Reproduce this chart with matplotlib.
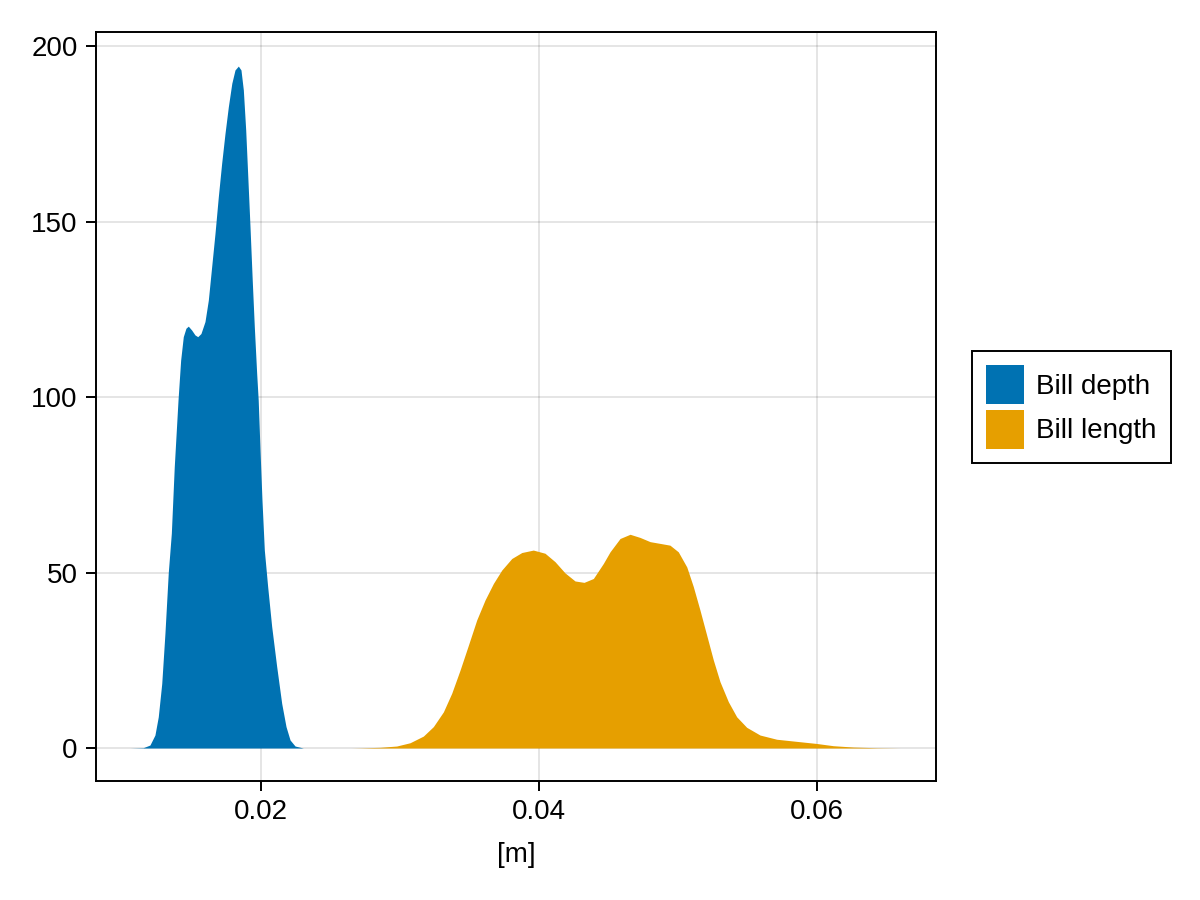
"""Density of penguin bill depth and bill length (in metres)."""

import matplotlib

matplotlib.use("Agg")
import matplotlib.pyplot as plt
from matplotlib.patches import Patch

# Density curves
depth_x = [0.01058, 0.01153, 0.01201, 0.01237, 0.01261, 0.01286, 0.01309, 0.01333,
           0.01355, 0.01376, 0.01403, 0.01422, 0.01441, 0.0146, 0.01477, 0.01501,
           0.01525, 0.01545, 0.01568, 0.01597, 0.01621, 0.01645, 0.01669, 0.01693,
           0.01717, 0.01741, 0.01765, 0.0179, 0.01813, 0.01837, 0.01856, 0.01873,
           0.0189, 0.01904, 0.01921, 0.01937, 0.01952, 0.01969, 0.0198, 0.01993,
           0.02007, 0.02024, 0.02048, 0.02077, 0.02113, 0.02149, 0.0218, 0.02209,
           0.02245, 0.02304]
depth_y = [0.0, 0.1, 0.85, 3.7, 8.9, 18.4, 32.7, 50.0,
           61.2, 80.1, 99.1, 110.5, 117.2, 119.6, 120.2, 119.1,
           117.7, 117.2, 118.1, 121.5, 127.6, 137.1, 146.6, 157.1,
           166.6, 175.1, 182.7, 189.4, 193.2, 194.3, 193.2, 187.5,
           176.1, 163.7, 148.5, 133.3, 120.0, 106.7, 99.1, 84.9,
           70.7, 56.4, 46.0, 34.6, 23.2, 12.7, 6.1, 2.3,
           0.57, 0.0]

length_x = [0.0265, 0.0272, 0.02856, 0.02976, 0.03072, 0.03168, 0.0324, 0.03312,
            0.03372, 0.03432, 0.03492, 0.03552, 0.03612, 0.03672, 0.03732, 0.03804,
            0.03876, 0.03959, 0.04043, 0.04115, 0.04187, 0.04259, 0.04324, 0.04391,
            0.04463, 0.04511, 0.04583, 0.04655, 0.04727, 0.04799, 0.04871, 0.04942,
            0.05002, 0.05063, 0.0511, 0.05158, 0.05206, 0.05254, 0.05302, 0.05362,
            0.05422, 0.05494, 0.0559, 0.0571, 0.05853, 0.05997, 0.06117, 0.06261,
            0.06429, 0.06597]
length_y = [0.0, 0.05, 0.2, 0.57, 1.5, 3.4, 6.1, 10.3,
            15.6, 22.2, 29.3, 36.5, 42.2, 46.9, 50.7, 54.0,
            55.7, 56.4, 55.5, 53.1, 49.9, 47.6, 47.2, 48.3,
            52.6, 55.9, 59.7, 60.9, 60.0, 58.8, 58.3, 57.8,
            55.9, 51.6, 46.0, 39.3, 32.2, 25.1, 18.9, 13.2,
            8.9, 5.9, 3.7, 2.5, 1.9, 1.3, 0.66, 0.28,
            0.08, 0.0]

labels = ["Bill depth", "Bill length"]
colors = ["#0072B2", "#E69F00"]
xticks = [0.02, 0.04, 0.06]
yticks = [0, 50, 100, 150, 200]

plt.rcParams["font.family"] = ["Liberation Sans", "DejaVu Sans"]
plt.rcParams["font.size"] = 20

fig, ax = plt.subplots(figsize=(12, 9), dpi=100)
fig.subplots_adjust(left=0.08, right=0.78, bottom=0.1322, top=0.9644)

ax.fill_between(depth_x, depth_y, 0, color=colors[0], linewidth=0, zorder=2)
ax.fill_between(length_x, length_y, 0, color=colors[1], linewidth=0, zorder=2)

ax.set_xlim(0.00813, 0.06856)
ax.set_ylim(-9.4, 204)
ax.set_xticks(xticks)
ax.set_xticklabels([f"{t:.2f}" for t in xticks])
ax.set_yticks(yticks)
ax.grid(True, color="black", alpha=0.12, linewidth=1.2, zorder=0)
ax.set_axisbelow(True)
ax.tick_params(direction="out", length=7.2, width=1.4, pad=6, labelsize=20)
for sp in ax.spines.values():
    sp.set_linewidth(1.4)
ax.set_xlabel("[m]", fontsize=20, labelpad=12)

handles = [Patch(facecolor=c, edgecolor="none") for c in colors]
leg = fig.legend(
    handles, labels, loc="center left", bbox_to_anchor=(972 / 1200, 1 - 407 / 900),
    fontsize=20, frameon=True, fancybox=False, edgecolor="black", framealpha=1,
    handlelength=1.37, handleheight=1.8, handletextpad=0.45,
    labelspacing=0.2, borderpad=0.5, borderaxespad=0,
)
leg.get_frame().set_linewidth(1.4)

fig.savefig("out.png", dpi=100)
